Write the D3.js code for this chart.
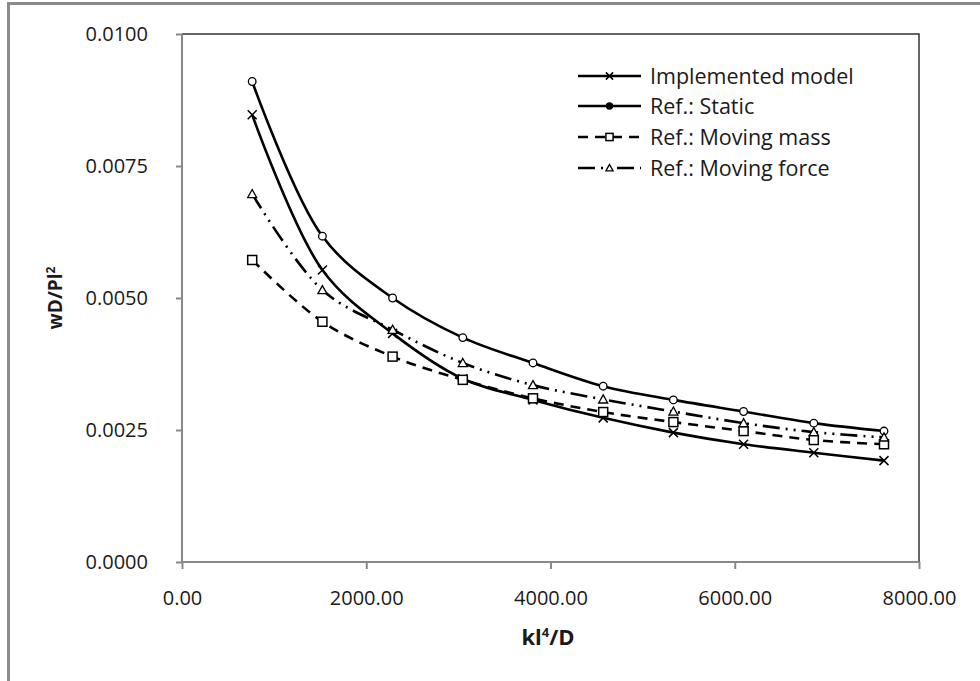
<!DOCTYPE html>
<html>
<head>
<meta charset="utf-8">
<script src="https://cdn.jsdelivr.net/npm/d3@7"></script>
<style>
  html, body { margin: 0; padding: 0; background: #fff; }
  svg { display: block; }
  text { font-family: "Open Sans", "Noto Sans", sans-serif; fill: #1a1a1a; }
</style>
</head>
<body>
<svg id="chart" width="980" height="681"></svg>
<script>
// Stiffness parameter kl^4/D
const stiffness = [762, 1524, 2286, 3048, 3810, 4572, 5334, 6096, 6858, 7620];

// Dimensionless deflection wD/Pl^2 for each solution
const implementedModel = [0.00847, 0.00553, 0.00433, 0.00347, 0.00307, 0.00273, 0.00245, 0.00223, 0.00207, 0.00192];
const refStatic        = [0.00910, 0.00617, 0.00500, 0.00425, 0.00377, 0.00333, 0.00307, 0.00285, 0.00263, 0.00248];
const refMovingMass    = [0.00572, 0.00455, 0.00389, 0.00345, 0.00310, 0.00284, 0.00265, 0.00248, 0.00231, 0.00223];
const refMovingForce   = [0.00697, 0.00515, 0.00440, 0.00377, 0.00335, 0.00308, 0.00285, 0.00263, 0.00246, 0.00236];

const seriesNames = ["Implemented model", "Ref.: Static", "Ref.: Moving mass", "Ref.: Moving force"];
const xTicks = [0, 2000, 4000, 6000, 8000];
const yTicks = [0, 0.0025, 0.005, 0.0075, 0.01];

const series = [
  { name: seriesNames[0], values: implementedModel, marker: "cross",    dash: null },
  { name: seriesNames[1], values: refStatic,        marker: "circle",   dash: null },
  { name: seriesNames[2], values: refMovingMass,    marker: "square",   dash: "10,7" },
  { name: seriesNames[3], values: refMovingForce,   marker: "triangle", dash: "17,6,2,6,2,6" }
];

const svg = d3.select("#chart");

// outer chart frame
svg.append("rect")
  .attr("x", 8.5).attr("y", 3.5)
  .attr("width", 990).attr("height", 700)
  .attr("fill", "none").attr("stroke", "#8a8a8a").attr("stroke-width", 3);

const plotLeft = 182, plotRight = 919, plotTop = 34, plotBottom = 562;

const x = d3.scaleLinear().domain([0, 8000]).range([plotLeft, plotRight]);
const y = d3.scaleLinear().domain([0, 0.01]).range([plotBottom, plotTop]);

// plot area border (top and right)
svg.append("path")
  .attr("d", `M${plotLeft},${plotTop}H${plotRight}V${plotBottom}`)
  .attr("fill", "none").attr("stroke", "#333").attr("stroke-width", 1.5);

// axes
const xAxis = d3.axisBottom(x).tickValues(xTicks).tickSize(7).tickPadding(22)
  .tickFormat(d3.format(".2f"));
const yAxis = d3.axisLeft(y).tickValues(yTicks).tickSize(6).tickPadding(28)
  .tickFormat(d3.format(".4f"));

const gx = svg.append("g").attr("transform", `translate(0,${plotBottom})`).call(xAxis);
const gy = svg.append("g").attr("transform", `translate(${plotLeft},0)`).call(yAxis);

[gx, gy].forEach(g => {
  g.select(".domain").attr("stroke", "#888").attr("stroke-width", 2);
  g.selectAll(".tick line").attr("stroke", "#888").attr("stroke-width", 2);
  g.selectAll(".tick text")
    .attr("fill", "#1a1a1a")
    .style("font-family", "'Open Sans', sans-serif")
    .style("font-size", "20px");
});
gx.select(".domain").attr("d", `M${plotLeft},0H${plotRight}`);
gy.select(".domain").attr("d", `M0,${plotBottom}V${plotTop}`);
gx.selectAll(".tick text").attr("dy", "0.71em");

// axis titles
svg.append("text")
  .attr("x", 548).attr("y", 645)
  .attr("text-anchor", "middle")
  .style("font-size", "22px").style("font-weight", "bold")
  .html('kl<tspan dy="-8" font-size="13">4</tspan><tspan dy="8">/D</tspan>');

svg.append("text")
  .attr("transform", `translate(62,298) rotate(-90)`)
  .attr("text-anchor", "middle")
  .style("font-size", "19px").style("font-weight", "bold")
  .html('wD/Pl<tspan dy="-7" font-size="12">2</tspan>');

// curves
const line = d3.line()
  .x((d, i) => x(stiffness[i]))
  .y(d => y(d))
  .curve(d3.curveCatmullRom.alpha(0.5));

const plot = svg.append("g");

series.forEach(s => {
  plot.append("path")
    .datum(s.values)
    .attr("d", line)
    .attr("fill", "none")
    .attr("stroke", "#000")
    .attr("stroke-width", 2.6)
    .attr("stroke-dasharray", s.dash);
});

function drawMarker(g, type, cx, cy, small) {
  const k = small ? 0.8 : 1;
  if (type === "cross") {
    const r = 4.5 * k;
    g.append("path")
      .attr("d", `M${cx - r},${cy - r}L${cx + r},${cy + r}M${cx - r},${cy + r}L${cx + r},${cy - r}`)
      .attr("stroke", "#000").attr("stroke-width", 1.5).attr("fill", "none");
  } else if (type === "circle") {
    g.append("circle")
      .attr("cx", cx).attr("cy", cy).attr("r", 3.8 * k)
      .attr("fill", small ? "#000" : "#fff").attr("stroke", "#000").attr("stroke-width", 1.3);
  } else if (type === "square") {
    const h = 4.5 * k;
    g.append("rect")
      .attr("x", cx - h).attr("y", cy - h).attr("width", 2 * h).attr("height", 2 * h)
      .attr("fill", "#fff").attr("stroke", "#000").attr("stroke-width", 1.5);
  } else if (type === "triangle") {
    const h = 4.5 * k;
    g.append("path")
      .attr("d", `M${cx},${cy - h}L${cx + h},${cy + h * 0.8}L${cx - h},${cy + h * 0.8}Z`)
      .attr("fill", "#fff").attr("stroke", "#000").attr("stroke-width", 1.3);
  }
}

series.forEach(s => {
  const g = plot.append("g");
  s.values.forEach((v, i) => drawMarker(g, s.marker, x(stiffness[i]), y(v), false));
});

// legend
const legend = svg.append("g");
const legendRows = [76, 106, 137, 168];
series.forEach((s, i) => {
  const ly = legendRows[i];
  legend.append("line")
    .attr("x1", 578).attr("x2", 641).attr("y1", ly).attr("y2", ly)
    .attr("stroke", "#000").attr("stroke-width", 2.6)
    .attr("stroke-dasharray", s.dash);
  drawMarker(legend, s.marker, 609.5, ly, true);
  legend.append("text")
    .attr("x", 650).attr("y", ly).attr("dy", "0.35em")
    .style("font-size", "21.5px")
    .text(s.name);
});
</script>
</body>
</html>
